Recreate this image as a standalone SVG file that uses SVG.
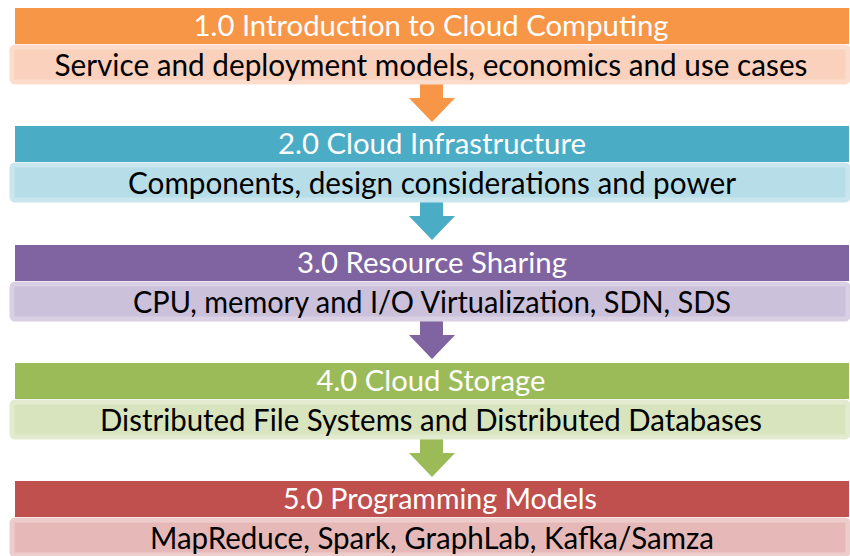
<svg xmlns="http://www.w3.org/2000/svg" width="850" height="556" viewBox="0 0 850 556">
<style>
.t{font-family:Lato,"Open Sans","Liberation Sans",sans-serif;font-size:29px;fill:#fff;text-anchor:middle}
.s{font-family:Lato,"Open Sans","Liberation Sans",sans-serif;font-size:30px;fill:#000;text-anchor:middle}
.sub{stroke-width:5;rx:3}
</style>
<rect width="850" height="556" fill="#fff"/>
<g id="connectors">
<polygon points="420,83 443,83 443,98 455,98 432,122 409,98 420,98" fill="#F79646"/>
<polygon points="420,201 443,201 443,216 455,216 432,240 409,216 420,216" fill="#4BACC6"/>
<polygon points="420,320 443,320 443,335 455,335 432,359 409,335 420,335" fill="#8064A2"/>
<polygon points="420,438 443,438 443,453 455,453 432,477 409,453 420,453" fill="#9BBB59"/>
</g>
<g id="n1">
<rect x="15" y="8" width="834" height="36" fill="#F79646"/>
<rect class="sub" x="12" y="47" width="836" height="35" fill="#F9D1BD" stroke="#FBDCCD"/>
<text class="t" x="431" y="36" textLength="475" lengthAdjust="spacingAndGlyphs">1.0 Introduction to Cloud Computing</text>
<text class="s" x="431" y="76" textLength="753" lengthAdjust="spacingAndGlyphs">Service and deployment models, economics and use cases</text>
</g>
<g id="n2">
<rect x="15" y="126" width="834" height="36" fill="#4BACC6"/>
<rect class="sub" x="12" y="165" width="836" height="35" fill="#B7DEE8" stroke="#C9E6EE"/>
<text class="t" x="432" y="154" textLength="308" lengthAdjust="spacingAndGlyphs">2.0 Cloud Infrastructure</text>
<text class="s" x="432" y="194" textLength="608" lengthAdjust="spacingAndGlyphs">Components, design considerations and power</text>
</g>
<g id="n3">
<rect x="15" y="245" width="834" height="36" fill="#8064A2"/>
<rect class="sub" x="12" y="284" width="836" height="35" fill="#CCC1DA" stroke="#D9D1E3"/>
<text class="t" x="432" y="273" textLength="270" lengthAdjust="spacingAndGlyphs">3.0 Resource Sharing</text>
<text class="s" x="432" y="313" textLength="598" lengthAdjust="spacingAndGlyphs">CPU, memory and I/O Virtualization, SDN, SDS</text>
</g>
<g id="n4">
<rect x="15" y="363" width="834" height="36" fill="#9BBB59"/>
<rect class="sub" x="12" y="402" width="836" height="35" fill="#D7E4BD" stroke="#E2EBCF"/>
<text class="t" x="431" y="391" textLength="229" lengthAdjust="spacingAndGlyphs">4.0 Cloud Storage</text>
<text class="s" x="431" y="431" textLength="662" lengthAdjust="spacingAndGlyphs">Distributed File Systems and Distributed Databases</text>
</g>
<g id="n5">
<rect x="15" y="481" width="834" height="36" fill="#C0504D"/>
<rect class="sub" x="12" y="520" width="836" height="35" fill="#E6B9B8" stroke="#EDCDCC"/>
<text class="t" x="440" y="509" textLength="314" lengthAdjust="spacingAndGlyphs">5.0 Programming Models</text>
<text class="s" x="432" y="549" textLength="564" lengthAdjust="spacingAndGlyphs">MapReduce, Spark, GraphLab, Kafka/Samza</text>
</g>
</svg>
